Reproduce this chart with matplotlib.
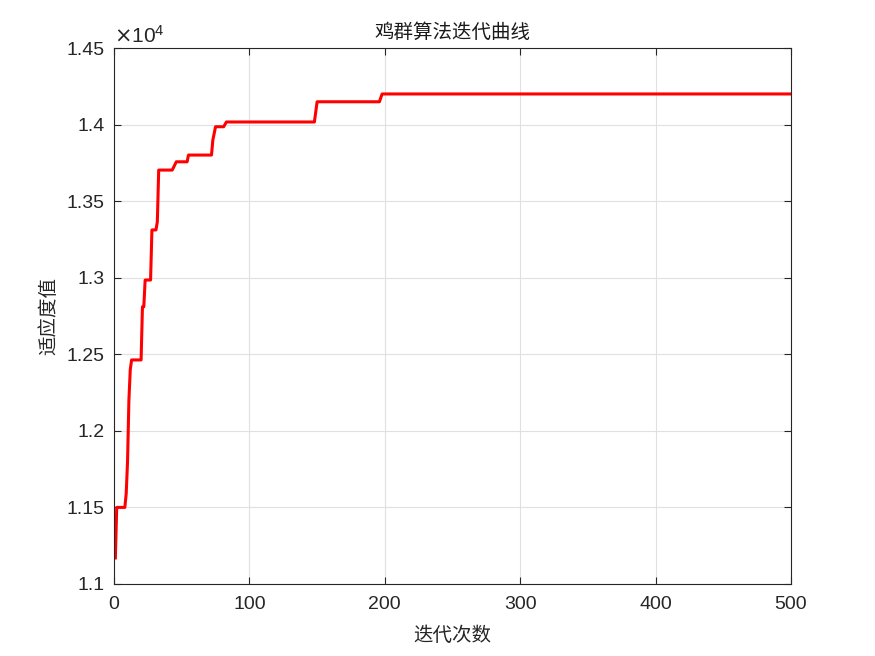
import numpy as np
import matplotlib.pyplot as plt
import matplotlib.ticker as ticker

plt.rcParams['font.family'] = ['Liberation Sans', 'Noto Sans CJK SC', 'DejaVu Sans']

# best fitness per iteration (curve vertices)
iters = [1, 2, 8, 9, 10, 11, 12, 13, 20, 21, 22, 23, 27, 28, 31, 32, 33,
         43, 46, 54, 55, 72, 73, 75, 81, 83, 148, 150, 196, 198, 500]
fitness = [11170, 11500, 11500, 11590, 11800, 12200, 12400, 12463, 12463,
           12810, 12810, 12985, 12985, 13312, 13312, 13366, 13703,
           13703, 13757, 13757, 13801, 13801, 13900, 13986, 13986, 14017,
           14017, 14149, 14149, 14200, 14200]

xticks = [0, 100, 200, 300, 400, 500]
yticks = [11000, 11500, 12000, 12500, 13000, 13500, 14000, 14500]

title = '鸡群算法迭代曲线'
xlabel = '迭代次数'
ylabel = '适应度值'

fig = plt.figure(figsize=(8.75, 6.56), dpi=100)
ax = fig.add_axes([0.1303, 0.1098, 0.7737, 0.817])
ax.plot(iters, fitness, color='red', linewidth=2.2)

ax.set_xlim(0, 500)
ax.set_ylim(11000, 14500)
ax.set_xticks(xticks)
ax.set_yticks(yticks)
ax.yaxis.set_major_formatter(ticker.FuncFormatter(lambda v, p: '%g' % (v / 1e4)))
ax.grid(True, color='#e0e0e0', linewidth=0.8)
ax.set_axisbelow(True)
for s in ax.spines.values():
    s.set_color('#262626')
    s.set_linewidth(0.8)
ax.tick_params(direction='in', top=True, right=True, length=5, width=0.8,
               colors='#262626', labelsize=14)
ax.tick_params(axis='x', pad=9)
ax.tick_params(axis='y', pad=7)

ax.text(0.0, 1.003, r'$\times\mathregular{10^4}$', transform=ax.transAxes,
        fontsize=15, color='#262626', ha='left', va='bottom')
ax.set_title(title, fontsize=14, color='#1a1a1a', pad=7,
             family=['Noto Sans CJK SC'])
ax.set_xlabel(xlabel, fontsize=14, color='#262626', labelpad=8,
              family=['Noto Sans CJK SC'])
ax.set_ylabel(ylabel, fontsize=14, color='#262626', labelpad=5,
              family=['Noto Sans CJK SC'])

plt.savefig('out.png', dpi=100)
